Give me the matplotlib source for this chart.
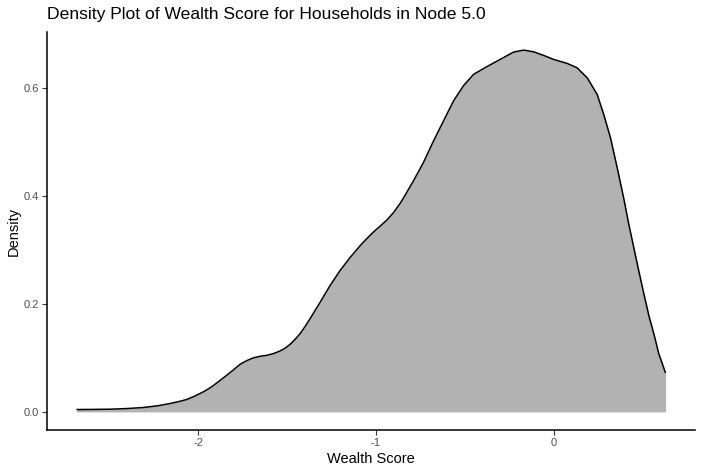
import matplotlib
matplotlib.use("Agg")
import matplotlib.pyplot as plt

# density curve (wealth score, density)
wealth = [-2.684, -2.60, -2.496, -2.40, -2.309, -2.23, -2.158, -2.110, -2.064,
          -2.02, -1.971, -1.930, -1.895, -1.839, -1.800, -1.764, -1.725,
          -1.689, -1.650, -1.614, -1.575, -1.539, -1.510, -1.482, -1.455,
          -1.426, -1.398, -1.370, -1.313, -1.257, -1.201, -1.144, -1.088,
          -1.050, -1.013, -0.975, -0.938, -0.900, -0.863, -0.844, -0.788,
          -0.732, -0.675, -0.619, -0.563, -0.506, -0.450, -0.375, -0.300,
          -0.225, -0.168, -0.112, -0.056, 0.000, 0.076, 0.132, 0.189, 0.245,
          0.282, 0.320, 0.358, 0.395, 0.423, 0.451, 0.479, 0.508, 0.536,
          0.564, 0.592, 0.630]
density = [0.0044, 0.0046, 0.0050, 0.0062, 0.0081, 0.0112, 0.0155, 0.019,
           0.0229, 0.029, 0.037, 0.045, 0.0535, 0.0677, 0.078, 0.088, 0.095,
           0.100, 0.103, 0.1047, 0.108, 0.1127, 0.118, 0.125, 0.134, 0.1447,
           0.158, 0.1724, 0.203, 0.234, 0.2616, 0.286, 0.3077, 0.321, 0.333,
           0.344, 0.355, 0.369, 0.386, 0.396, 0.4277, 0.4615, 0.5016,
           0.5385, 0.5754, 0.604, 0.6247, 0.639, 0.6524, 0.6659, 0.6696,
           0.6664, 0.6598, 0.6524, 0.645, 0.6369, 0.6184, 0.5878, 0.5509,
           0.5077, 0.452, 0.395, 0.3478, 0.3046, 0.2616, 0.2186, 0.1785,
           0.1447, 0.1078, 0.072]

plt.rcParams["font.family"] = ["Liberation Sans", "DejaVu Sans"]

fig = plt.figure(figsize=(7.02, 4.72), dpi=100)
ax = fig.add_axes([47 / 702, 1 - 430 / 472, 648 / 702, 398 / 472])

ax.fill_between(wealth, 0, density, color="#B2B2B2", linewidth=0)
ax.plot(wealth, density, color="black", linewidth=1.1,
        solid_joinstyle="round", solid_capstyle="butt")

span = wealth[-1] - wealth[0]
ax.set_xlim(wealth[0] - 0.05 * span, wealth[-1] + 0.05 * span)
top = max(density)
ax.set_ylim(-0.05 * top, top * 1.05)

ax.set_xticks([-2, -1, 0])
ax.set_xticklabels(["-2", "-1", "0"])
ax.set_yticks([0.0, 0.2, 0.4, 0.6])
ax.set_yticklabels(["0.0", "0.2", "0.4", "0.6"])

for side in ("top", "right"):
    ax.spines[side].set_visible(False)
for side in ("left", "bottom"):
    ax.spines[side].set_linewidth(1.1)
    ax.spines[side].set_color("black")
ax.tick_params(axis="both", length=3.5, width=0.8, color="#333333",
               labelsize=8, labelcolor="#4D4D4D", pad=2)

ax.set_xlabel("Wealth Score", fontsize=10.5, labelpad=3)
ax.set_ylabel("Density", fontsize=10.5, labelpad=2)
ax.set_title("Density Plot of Wealth Score for Households in Node 5.0",
             fontsize=12.6, loc="left", pad=9)

fig.savefig("out.png", dpi=100)
